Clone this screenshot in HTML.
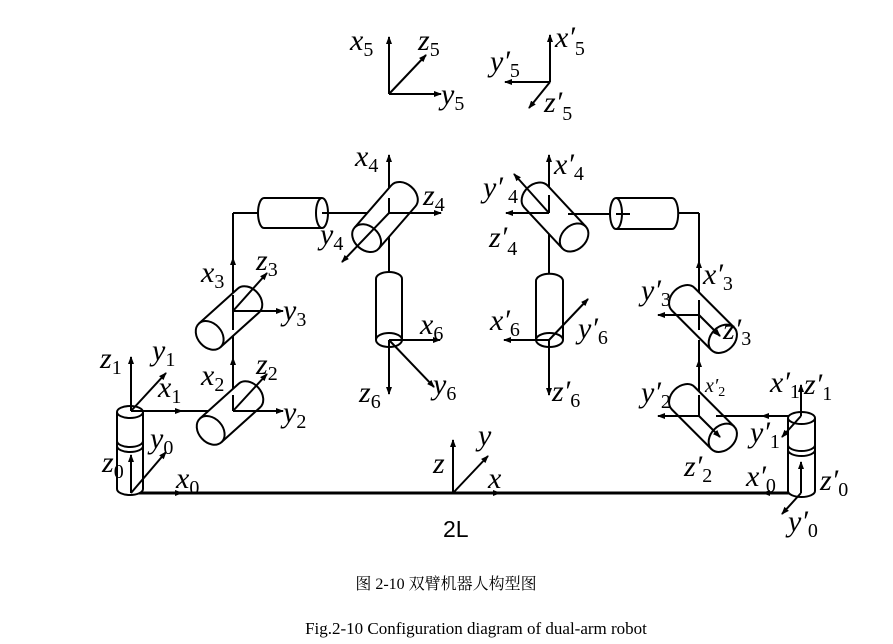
<!DOCTYPE html>
<html><head><meta charset="utf-8"><style>
body{margin:0;background:#fff;}
svg{display:block;}
.l{font-family:"Liberation Serif",serif;font-style:italic;font-size:30px;}
.s{font-style:normal;font-size:20px;}
</style></head><body>
<svg width="893" height="644" viewBox="0 0 893 644" xmlns="http://www.w3.org/2000/svg">
<defs>
<marker id="a" markerWidth="8" markerHeight="8" refX="7" refY="4" orient="auto" markerUnits="userSpaceOnUse"><path d="M0,1 L8,4 L0,7 z" fill="#000"/></marker>
</defs>
<g stroke="#000" stroke-width="2" fill="none">
<line x1="389" y1="94" x2="389" y2="37" marker-end="url(#a)"/>
<line x1="389" y1="94" x2="426" y2="55" marker-end="url(#a)"/>
<line x1="389" y1="94" x2="441" y2="94" marker-end="url(#a)"/>
<line x1="550" y1="82" x2="550" y2="35" marker-end="url(#a)"/>
<line x1="550" y1="82" x2="505" y2="82" marker-end="url(#a)"/>
<line x1="550" y1="82" x2="529" y2="108" marker-end="url(#a)"/>

<line x1="131" y1="493" x2="801" y2="493" stroke-width="3"/>
<line x1="150" y1="493" x2="182" y2="493" marker-end="url(#a)"/>
<line x1="470" y1="493" x2="500" y2="493" marker-end="url(#a)"/>
<line x1="790" y1="493" x2="763" y2="493" marker-end="url(#a)"/>
<line x1="453" y1="493" x2="453" y2="440" marker-end="url(#a)"/>
<line x1="453" y1="493" x2="488" y2="456" marker-end="url(#a)"/>

<g fill="#fff">
<path d="M117,412 L117,489 A13,6 0 0 0 143,489 L143,412"/>
<ellipse cx="130" cy="412" rx="13" ry="6"/>
<path d="M117,441 A13,6 0 0 0 143,441 M117,446 A13,6 0 0 0 143,446"/>
</g>
<line x1="131" y1="493" x2="131" y2="455" marker-end="url(#a)"/>
<line x1="131" y1="493" x2="166" y2="452" marker-end="url(#a)"/>
<line x1="131" y1="411" x2="131" y2="357" marker-end="url(#a)"/>
<line x1="131" y1="411" x2="166" y2="373" marker-end="url(#a)"/>
<line x1="131" y1="411" x2="220" y2="411"/>
<line x1="150" y1="411" x2="182" y2="411" marker-end="url(#a)"/>

<line x1="233" y1="411" x2="233" y2="213"/>
<line x1="233" y1="380" x2="233" y2="358" marker-end="url(#a)"/>
<line x1="233" y1="280" x2="233" y2="258" marker-end="url(#a)"/>
<line x1="233" y1="213" x2="262" y2="213"/>
<line x1="318" y1="213" x2="389" y2="213"/>
<line x1="389" y1="213" x2="441" y2="213" marker-end="url(#a)"/>
<line x1="389" y1="213" x2="389" y2="155" marker-end="url(#a)"/>
<line x1="389" y1="213" x2="389" y2="275"/>

<g transform="translate(230,413) rotate(-42)" fill="#fff">
<path d="M-26,-16 L26,-16 A12,16 0 0 1 26,16 L-26,16"/>
<ellipse cx="-26" cy="0" rx="12" ry="16"/>
</g>
<line x1="233" y1="411" x2="233" y2="395"/>
<line x1="233" y1="411" x2="283" y2="411" marker-end="url(#a)"/>
<line x1="233" y1="411" x2="267" y2="374" marker-end="url(#a)"/>
<g transform="translate(229,318) rotate(-42)" fill="#fff">
<path d="M-26,-16 L26,-16 A12,16 0 0 1 26,16 L-26,16"/>
<ellipse cx="-26" cy="0" rx="12" ry="16"/>
</g>
<line x1="233" y1="311" x2="233" y2="330"/>
<line x1="233" y1="311" x2="233" y2="295"/>
<line x1="233" y1="311" x2="283" y2="311" marker-end="url(#a)"/>
<line x1="233" y1="311" x2="267" y2="273" marker-end="url(#a)"/>

<g fill="#fff">
<path d="M322,198 L264,198 A6,15 0 0 0 264,228 L322,228"/>
<ellipse cx="322" cy="213" rx="6" ry="15"/>
</g>
<line x1="322" y1="213" x2="362" y2="213"/>

<g transform="translate(385,217) rotate(-49)" fill="#fff">
<path d="M-28,-16 L28,-16 A12,16 0 0 1 28,16 L-28,16"/>
<ellipse cx="-28" cy="0" rx="12" ry="16"/>
</g>
<line x1="389" y1="213" x2="389" y2="198"/>
<line x1="389" y1="213" x2="420" y2="213"/>
<line x1="389" y1="213" x2="342" y2="262" marker-end="url(#a)"/>

<g fill="#fff">
<path d="M376,340 L376,279 A13,7 0 0 1 402,279 L402,340"/>
<ellipse cx="389" cy="340" rx="13" ry="7"/>
</g>
<line x1="389" y1="340" x2="440" y2="340" marker-end="url(#a)"/>
<line x1="389" y1="340" x2="389" y2="394" marker-end="url(#a)"/>
<line x1="389" y1="340" x2="434" y2="387" marker-end="url(#a)"/>

<line x1="549" y1="213" x2="549" y2="155" marker-end="url(#a)"/>
<line x1="549" y1="213" x2="549" y2="275"/>
<g transform="translate(555,217) rotate(47)" fill="#fff">
<path d="M28,-16 L-28,-16 A12,16 0 0 0 -28,16 L28,16"/>
<ellipse cx="28" cy="0" rx="12" ry="16"/>
</g>
<line x1="549" y1="213" x2="549" y2="195"/>
<line x1="549" y1="213" x2="514" y2="174" marker-end="url(#a)"/>
<line x1="549" y1="213" x2="506" y2="213" marker-end="url(#a)"/>
<line x1="568" y1="214" x2="616" y2="214"/>
<g fill="#fff">
<path d="M616,198 L672,198 A6,15 0 0 1 672,229 L616,229"/>
<ellipse cx="616" cy="213.5" rx="6" ry="15.5"/>
</g>
<line x1="616" y1="214" x2="630" y2="214"/>
<line x1="678" y1="213" x2="699" y2="213"/>
<line x1="699" y1="213" x2="699" y2="300"/>
<line x1="699" y1="290" x2="699" y2="261" marker-end="url(#a)"/>

<g fill="#fff">
<path d="M536,340 L536,281 A13,7 0 0 1 563,281 L563,340"/>
<ellipse cx="549.5" cy="340" rx="13.5" ry="7"/>
</g>
<line x1="549" y1="340" x2="504" y2="340" marker-end="url(#a)"/>
<line x1="549" y1="340" x2="549" y2="395" marker-end="url(#a)"/>
<line x1="549" y1="340" x2="588" y2="299" marker-end="url(#a)"/>

<g transform="translate(703,319) rotate(45)" fill="#fff">
<path d="M28,-16 L-28,-16 A12,16 0 0 0 -28,16 L28,16"/>
<ellipse cx="28" cy="0" rx="12" ry="16"/>
</g>
<line x1="699" y1="300" x2="699" y2="330"/>
<line x1="699" y1="340" x2="699" y2="405"/>
<line x1="699" y1="385" x2="699" y2="360" marker-end="url(#a)"/>
<line x1="699" y1="315" x2="658" y2="315" marker-end="url(#a)"/>
<line x1="699" y1="315" x2="720" y2="336" marker-end="url(#a)"/>
<g transform="translate(703,418) rotate(45)" fill="#fff">
<path d="M28,-16 L-28,-16 A12,16 0 0 0 -28,16 L28,16"/>
<ellipse cx="28" cy="0" rx="12" ry="16"/>
</g>
<line x1="699" y1="395" x2="699" y2="416"/>
<line x1="699" y1="416" x2="658" y2="416" marker-end="url(#a)"/>
<line x1="699" y1="416" x2="720" y2="437" marker-end="url(#a)"/>
<line x1="716" y1="416" x2="801" y2="416"/>
<line x1="790" y1="416" x2="762" y2="416" marker-end="url(#a)"/>

<g fill="#fff">
<path d="M788,418 L788,491 A13.5,6 0 0 0 815,491 L815,418"/>
<ellipse cx="801.5" cy="418" rx="13.5" ry="6"/>
<path d="M788,445 A13.5,6 0 0 0 815,445 M788,450 A13.5,6 0 0 0 815,450"/>
</g>
<line x1="801" y1="416" x2="801" y2="385" marker-end="url(#a)"/>
<line x1="801" y1="416" x2="782" y2="437" marker-end="url(#a)"/>
<line x1="801" y1="493" x2="801" y2="462" marker-end="url(#a)"/>
<line x1="801" y1="493" x2="782" y2="514" marker-end="url(#a)"/>
</g>

<g class="l" fill="#000">
<text x="350" y="50">x<tspan class="s" dy="6">5</tspan></text>
<text x="418" y="50">z<tspan class="s" dy="6">5</tspan></text>
<text x="441" y="104">y<tspan class="s" dy="6">5</tspan></text>
<text x="555" y="47">x′<tspan class="s" dy="8">5</tspan></text>
<text x="490" y="71">y′<tspan class="s" dy="6">5</tspan></text>
<text x="544" y="112">z′<tspan class="s" dy="8">5</tspan></text>

<text x="355" y="166">x<tspan class="s" dy="6">4</tspan></text>
<text x="423" y="205">z<tspan class="s" dy="6">4</tspan></text>
<text x="320" y="244">y<tspan class="s" dy="6">4</tspan></text>
<text x="201" y="282">x<tspan class="s" dy="6">3</tspan></text>
<text x="256" y="270">z<tspan class="s" dy="6">3</tspan></text>
<text x="283" y="320">y<tspan class="s" dy="6">3</tspan></text>
<text x="201" y="385">x<tspan class="s" dy="6">2</tspan></text>
<text x="256" y="374">z<tspan class="s" dy="6">2</tspan></text>
<text x="283" y="422">y<tspan class="s" dy="6">2</tspan></text>
<text x="100" y="368">z<tspan class="s" dy="6">1</tspan></text>
<text x="152" y="360">y<tspan class="s" dy="6">1</tspan></text>
<text x="158" y="397">x<tspan class="s" dy="6">1</tspan></text>
<text x="150" y="448">y<tspan class="s" dy="6">0</tspan></text>
<text x="102" y="472">z<tspan class="s" dy="6">0</tspan></text>
<text x="176" y="488">x<tspan class="s" dy="6">0</tspan></text>
<text x="420" y="334">x<tspan class="s" dy="6">6</tspan></text>
<text x="433" y="394">y<tspan class="s" dy="6">6</tspan></text>
<text x="359" y="402">z<tspan class="s" dy="6">6</tspan></text>
<text x="433" y="473">z</text>
<text x="478" y="445">y</text>
<text x="488" y="488">x</text>

<text x="554" y="174">x′<tspan class="s" dy="6">4</tspan></text>
<text x="483" y="197">y′</text><text x="508" y="203" style="font-size:20px;font-style:normal">4</text>
<text x="489" y="247">z′<tspan class="s" dy="8">4</tspan></text>
<text x="490" y="330">x′<tspan class="s" dy="6">6</tspan></text>
<text x="578" y="338">y′<tspan class="s" dy="6">6</tspan></text>
<text x="552" y="401">z′<tspan class="s" dy="6">6</tspan></text>
<text x="703" y="284">x′<tspan class="s" dy="6">3</tspan></text>
<text x="641" y="300">y′<tspan class="s" dy="6">3</tspan></text>
<text x="723" y="339">z′<tspan class="s" dy="6">3</tspan></text>
<text x="641" y="402">y′<tspan class="s" dy="6">2</tspan></text>
<text x="705" y="392" style="font-size:20px">x′<tspan dy="4" style="font-size:14px;font-style:normal">2</tspan></text>
<text x="684" y="476">z′<tspan class="s" dy="6">2</tspan></text>
<text x="770" y="392">x′<tspan class="s" dy="6">1</tspan></text>
<text x="804" y="394">z′<tspan class="s" dy="6">1</tspan></text>
<text x="750" y="442">y′<tspan class="s" dy="6">1</tspan></text>
<text x="746" y="486">x′<tspan class="s" dy="6">0</tspan></text>
<text x="820" y="490">z′<tspan class="s" dy="6">0</tspan></text>
<text x="788" y="531">y′<tspan class="s" dy="6">0</tspan></text>
</g>
<text x="443" y="537" font-family="Liberation Sans, sans-serif" font-size="23">2L</text>
<text x="446" y="589" text-anchor="middle" font-family="'Liberation Serif','Noto Serif CJK SC','Noto Sans CJK SC',serif" font-size="16">图 2-10 双臂机器人构型图</text>
<text x="476" y="634" text-anchor="middle" font-family="'Liberation Serif',serif" font-size="17">Fig.2-10 Configuration diagram of dual-arm robot</text>
</svg>
</body></html>
